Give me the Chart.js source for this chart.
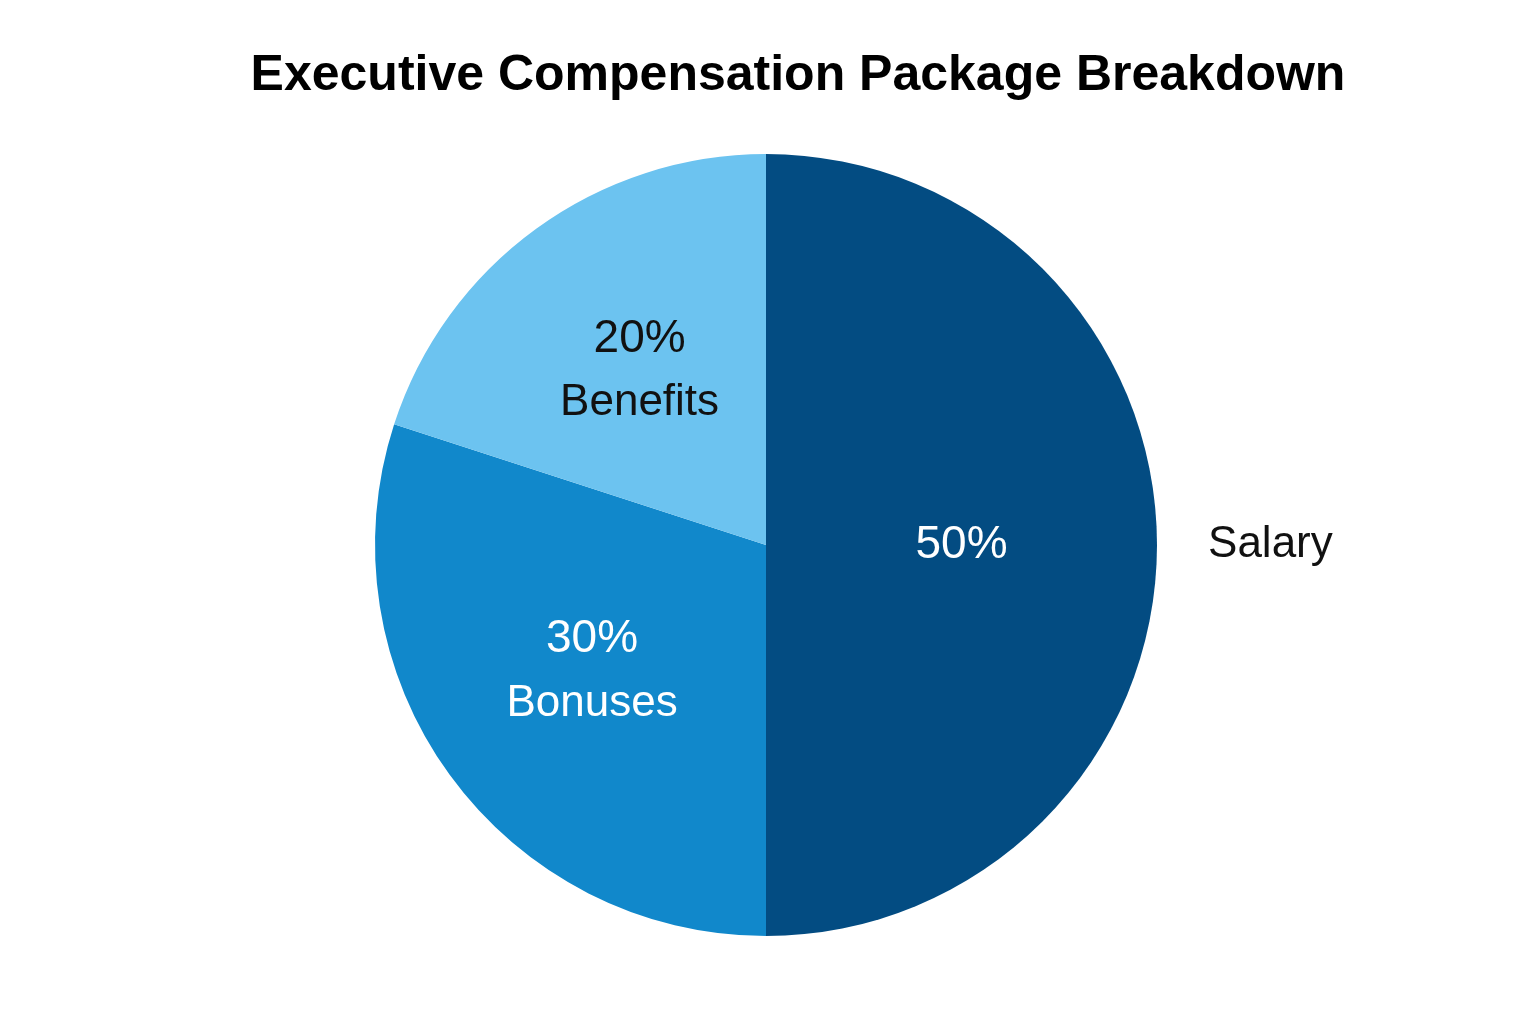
<!DOCTYPE html>
<html><head><meta charset="utf-8">
<script src="https://cdn.jsdelivr.net/npm/chart.js@4"></script>
<style>html,body{margin:0;background:#fff}#w{width:1536px;height:1024px}</style>
</head><body><div id="w"><canvas id="c"></canvas></div>
<script>
const categories = ["Salary", "Bonuses", "Benefits"];
const values = [50, 30, 20];
const colors = ["#034C82", "#1188CB", "#6CC3F0"];
const textColors = ["#ffffff", "#ffffff", "#111111"];

const labelPlugin = {
  id: 'labels',
  afterDraw(chart) {
    const ctx = chart.ctx;
    ctx.save();
    ctx.textAlign = 'center'; ctx.textBaseline = 'middle';
    ctx.fillStyle = '#000';
    ctx.font = 'bold 50px "Liberation Sans", Arial, sans-serif';
    ctx.fillText('Executive Compensation Package Breakdown', 798, 76);
    const meta = chart.getDatasetMeta(0);
    meta.data.forEach((arc, i) => {
      const p = arc.getProps(['x','y','startAngle','endAngle','outerRadius'], true);
      const mid = (p.startAngle + p.endAngle) / 2;
      const pct = values[i] + '%';
      ctx.fillStyle = textColors[i];
      if (i === 0) {
        const r = p.outerRadius * 0.5;
        ctx.font = '46px "Liberation Sans", Arial, sans-serif';
        ctx.fillText(pct, p.x + r * Math.cos(mid), p.y + r * Math.sin(mid));
        ctx.fillStyle = '#111';
        ctx.font = '44px "Liberation Sans", Arial, sans-serif';
        ctx.fillText(categories[i], p.x + p.outerRadius * 1.29 * Math.cos(mid), p.y + p.outerRadius * 1.29 * Math.sin(mid));
      } else {
        const r = p.outerRadius * 0.55;
        const cx = p.x + r * Math.cos(mid), cy = p.y + r * Math.sin(mid);
        ctx.font = '46px "Liberation Sans", Arial, sans-serif';
        ctx.fillText(pct, cx, cy - 32);
        ctx.font = '44px "Liberation Sans", Arial, sans-serif';
        ctx.fillText(categories[i], cx, cy + 32);
      }
    });
    ctx.restore();
  }
};

new Chart(document.getElementById('c'), {
  type: 'pie',
  data: { labels: categories, datasets: [{ data: values, backgroundColor: colors, borderWidth: 0 }] },
  options: {
    responsive: true, maintainAspectRatio: false, animation: false,
    layout: { padding: { top: 154, bottom: 88, left: 0, right: 4 } },
    plugins: { legend: { display: false }, tooltip: { enabled: false } }
  },
  plugins: [labelPlugin]
});
</script></body></html>
